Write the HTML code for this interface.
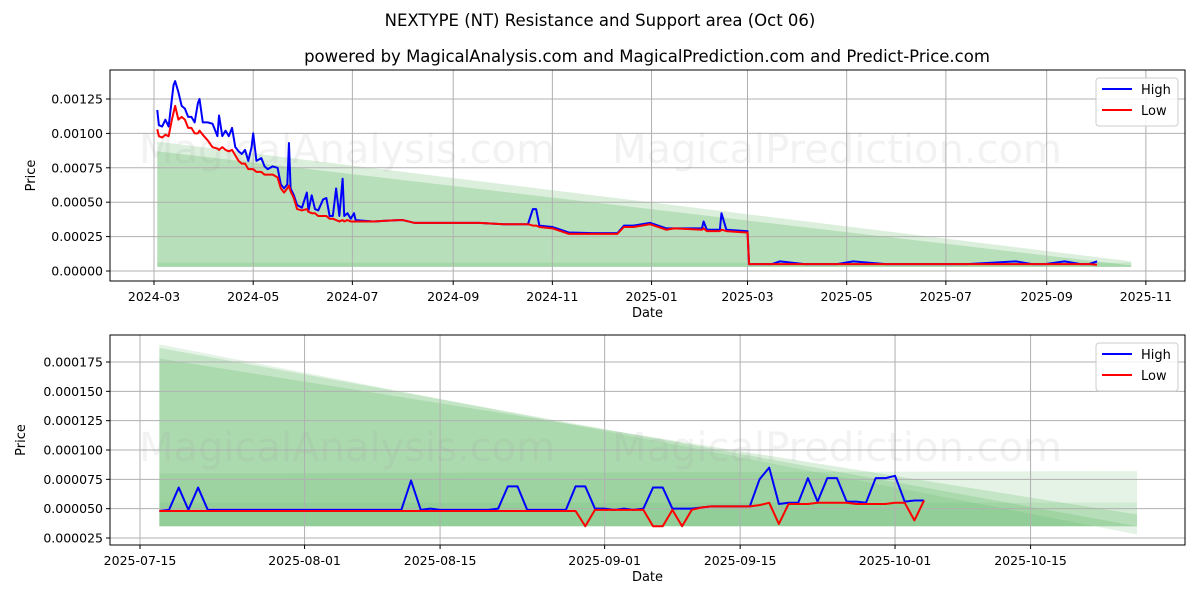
<!DOCTYPE html>
<html><head><meta charset="utf-8"><style>
body{margin:0;background:#fff;font-family:"Liberation Sans",sans-serif}
svg text{font-family:"DejaVu Sans","Liberation Sans",sans-serif;fill:#000}
</style></head><body>
<svg id="c" width="1200" height="600" xmlns="http://www.w3.org/2000/svg">
<text x="600" y="26" text-anchor="middle" font-size="16.5">NEXTYPE (NT) Resistance and Support area (Oct 06)</text>
<text x="647" y="62" text-anchor="middle" font-size="16.5">powered by MagicalAnalysis.com and MagicalPrediction.com and Predict-Price.com</text>
</svg>
<script>
// top chart data: [day offset from 2024-03-01, high, low] in 1e-5
const topDays=[2,3,5,7,9,11,12,13,15,17,19,21,23,25,27,28,30,33,36,39,40,42,44,46,48,50,52,54,56,58,60,61,63,66,68,70,73,76,78,80,82,83,84,86,88,91,94,95,97,99,101,104,106,108,110,112,114,116,117,119,121,123,124,135,150,153,160,180,200,215,225,230,233,235,237,245,250,255,270,285,289,295,305,310,315,320,337,338,340,348,349,352,364,365,366,380,385,400,420,430,450,470,490,500,530,540,548,560,570,575,580];
const topHigh=[117,106,105,110,105,125,135,138,130,120,118,112,112,108,122,125,108,108,107,98,113,98,102,98,104,90,87,85,88,80,90,100,80,82,76,74,76,75,63,60,63,93,60,55,48,46,57,44,55,45,44,52,53,40,40,60,40,67,40,42,38,42,37,36,37,37,35,35,35,34,34,34,45,45,33,32,30,28,27.5,27.5,33,33,35,33,31,31,31,36,30,30,42,30,29,29,5,5,7,5,5,7,5,5,5,5,7,5,5,7,5,5,7,5];
const topLow=[103,98,97,99,98,110,115,120,110,112,110,104,104,100,100,102,99,95,90,89,88,90,88,87,88,84,80,78,78,74,74,74,72,72,70,70,70,68,60,57,60,62,58,53,45,44,45,43,42,42,40,40,40,38,38,37,36,37,36,37,36,36,36,36,37,37,35,35,35,34,34,34,33,33,32,31,29,27,27,27,32,32,34,32,30,31,30,31,29,29,30,29,28,28,5,5,5,5,5,5,5,5,5,5,5,5,5,5,5,5,4.5,5];
const topTicks=[0,0.00025,0.0005,0.00075,0.001,0.00125];
const topTickLabels=["0.00000","0.00025","0.00050","0.00075","0.00100","0.00125"];
const topXTicks=["2024-03","2024-05","2024-07","2024-09","2024-11","2025-01","2025-03","2025-05","2025-07","2025-09","2025-11"];
const topXTickDays=[0,61,122,184,245,306,365,426,487,549,610];
// bottom chart data (1e-6), daily from 2025-07-17
const botStart=2;
const botHigh=[48,49,68,49,68,49,49,49,49,49,49,49,49,49,49,49,49,49,49,49,49,49,49,49,49,49,74,49,50,49,49,49,49,49,49,50,69,69,49,49,49,49,49,69,69,50,50,49,50,49,50,68,68,50,50,50,51,52,52,52,52,52,75,85,54,55,55,76,56,76,76,56,56,55,76,76,78,56,57,57];
const botLow=[48,48,48,48,48,48,48,48,48,48,48,48,48,48,48,48,48,48,48,48,48,48,48,48,48,48,48,48,48,48,48,48,48,48,48,48,48,48,48,48,48,48,48,48,35,49,49,49,49,49,49,35,35,49,35,49,51,52,52,52,52,52,53,55,37,54,54,54,55,55,55,55,54,54,54,54,55,55,40,57];
const botTicks=[0.000025,0.00005,0.000075,0.0001,0.000125,0.00015,0.000175];
const botTickLabels=["0.000025","0.000050","0.000075","0.000100","0.000125","0.000150","0.000175"];
const botXTicks=["2025-07-15","2025-08-01","2025-08-15","2025-09-01","2025-09-15","2025-10-01","2025-10-15"];
const botXTickDays=[0,17,31,48,62,78,92];

const NS="http://www.w3.org/2000/svg",svg=document.getElementById('c');
function el(t,a,p){const e=document.createElementNS(NS,t);for(const k in a)e.setAttribute(k,a[k]);(p||svg).appendChild(e);return e;}
function panel(o){
  const g=el('g',{});
  
  
  o.bands.forEach(b=>{const p=el('polygon',{points:b.pts.map(q=>o.X(q[0])+','+o.Y(q[1])).join(' '),fill:'#4caf50','fill-opacity':b.a},g);
    
    });
  o.ticks.forEach((v,i)=>{const y=o.Y(v);el('line',{x1:o.x0,x2:o.x1,y1:y,y2:y,stroke:'#b0b0b0','stroke-width':1},g);
    el('line',{x1:o.x0-4,x2:o.x0,y1:y,y2:y,stroke:'#000'},g);
    const t=el('text',{x:o.x0-7,y:y+4.5,'text-anchor':'end','font-size':12.5},g);t.textContent=o.tl[i];
    
    });
  o.xd.forEach((d,i)=>{const x=o.X(d);el('line',{x1:x,x2:x,y1:o.y0,y2:o.y1,stroke:'#b0b0b0','stroke-width':1},g);
    el('line',{x1:x,x2:x,y1:o.y1,y2:o.y1+4,stroke:'#000'},g);
    const t=el('text',{x:x,y:o.y1+20,'text-anchor':'middle','font-size':12.5},g);t.textContent=o.xl[i];
    
    });
  [[o.wm1,'MagicalAnalysis.com'],[o.wm2,'MagicalPrediction.com']].forEach(w=>{const t=el('text',{x:w[0],y:o.wy,'text-anchor':'middle','font-size':40,style:'fill:#999;fill-opacity:0.13'},g);t.textContent=w[1];
    
    });
  [[o.hi,'#0000ff','high-line'],[o.lo,'#ff0000','low-line']].forEach(s=>{
    const p=el('polyline',{points:s[0].map((v,i)=>o.X(o.days[i])+','+o.Y(v*o.u)).join(' '),fill:'none',stroke:s[1],'stroke-width':2,'stroke-linejoin':'round'},g);
    
    });
  el('rect',{x:o.x0,y:o.y0,width:o.x1-o.x0,height:o.y1-o.y0,fill:'none',stroke:'#000','stroke-width':1},g);
  const xl=el('text',{x:(o.x0+o.x1)/2,y:o.y1+36,'text-anchor':'middle','font-size':13},g);xl.textContent='Date';
  
  
  const yl=el('text',{x:o.ylx,y:(o.y0+o.y1)/2,'text-anchor':'middle','font-size':13,transform:`rotate(-90 ${o.ylx} ${(o.y0+o.y1)/2})`},g);yl.textContent='Price';
  
  
  const lg=el('g',{},g);
  
  
  el('rect',{x:1096,y:o.y0+8,width:82,height:48,rx:3,fill:'#fff','fill-opacity':0.85,stroke:'#ccc'},lg);
  [['High','#0000ff'],['Low','#ff0000']].forEach((e,i)=>{const y=o.y0+19+i*21;
    el('line',{x1:1102,x2:1132,y1:y,y2:y,stroke:e[1],'stroke-width':2},lg);
    const t=el('text',{x:1141,y:y+5,'font-size':13},lg);t.textContent=e[0];
    
    });
}
const tX=d=>154+d*1.626, tY=v=>271-v/0.00125*172;
panel({name:'top-panel',x0:110,x1:1185,y0:70,y1:281,X:tX,Y:tY,ticks:topTicks,tl:topTickLabels,xd:topXTickDays,xl:topXTicks,
 days:topDays,hi:topHigh,lo:topLow,u:1e-5,ylx:35,wm1:347,wm2:837,wy:163,
 bands:[{a:0.2,pts:[[2,0.00094],[601,0.00007],[601,0.00003],[2,0.00003]]},
        {a:0.25,pts:[[2,0.00087],[601,0.00004],[601,0.00003],[2,0.00003]]},
        {a:0.15,pts:[[2,0.00006],[601,0.00006],[601,0.00003],[2,0.00003]]}]});
const bX=d=>140+d*9.68, bY=v=>538-(v-0.000025)/0.00015*176;
const bDays=botHigh.map((_,i)=>botStart+i);
panel({name:'bottom-panel',x0:110,x1:1185,y0:335,y1:545,X:bX,Y:bY,ticks:botTicks,tl:botTickLabels,xd:botXTickDays,xl:botXTicks,
 days:bDays,hi:botHigh,lo:botLow,u:1e-6,ylx:25,wm1:347,wm2:837,wy:461,
 bands:[{a:0.15,pts:[[2,0.00019],[103,0.000028],[103,0.000035],[2,0.000035]]},
        {a:0.2,pts:[[2,0.000187],[103,0.000035],[103,0.000035],[2,0.000035]]},
        {a:0.2,pts:[[2,0.000178],[103,0.000045],[103,0.000035],[2,0.000035]]},
        {a:0.15,pts:[[2,0.00008],[103,0.000082],[103,0.000035],[2,0.000035]]},
        {a:0.12,pts:[[2,0.000055],[103,0.000055],[103,0.000035],[2,0.000035]]}]});
</script>
</body></html>
